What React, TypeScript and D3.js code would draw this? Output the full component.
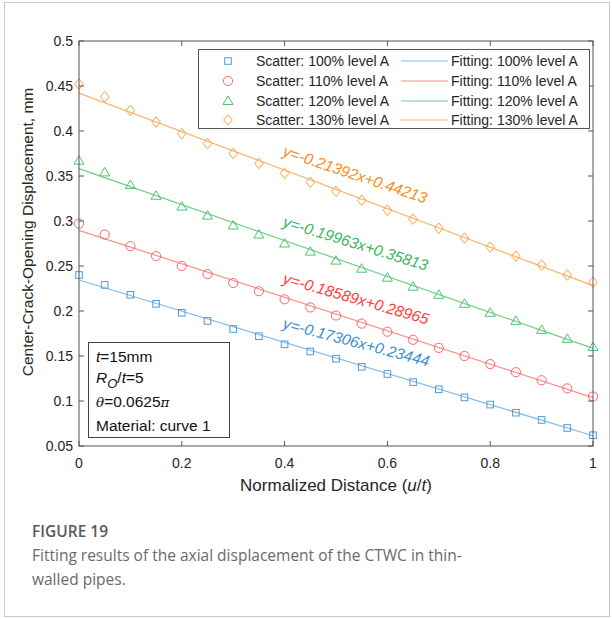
import React from "react";
import * as d3 from "d3";

const xs = [0, 0.05, 0.1, 0.15, 0.2, 0.25, 0.3, 0.35, 0.4, 0.45, 0.5, 0.55, 0.6, 0.65, 0.7, 0.75, 0.8, 0.85, 0.9, 0.95, 1];
const s100 = [0.240, 0.229, 0.218, 0.208, 0.198, 0.189, 0.180, 0.172, 0.163, 0.155, 0.147, 0.138, 0.130, 0.121, 0.113, 0.104, 0.096, 0.087, 0.079, 0.070, 0.062];
const s110 = [0.297, 0.285, 0.272, 0.261, 0.250, 0.241, 0.231, 0.222, 0.213, 0.204, 0.195, 0.186, 0.177, 0.168, 0.159, 0.150, 0.141, 0.132, 0.123, 0.114, 0.105];
const s120 = [0.367, 0.354, 0.340, 0.328, 0.316, 0.306, 0.295, 0.285, 0.275, 0.266, 0.256, 0.247, 0.237, 0.227, 0.218, 0.208, 0.198, 0.189, 0.179, 0.169, 0.160];
const s130 = [0.452, 0.438, 0.423, 0.410, 0.397, 0.386, 0.375, 0.364, 0.353, 0.343, 0.333, 0.323, 0.312, 0.302, 0.292, 0.281, 0.271, 0.261, 0.251, 0.240, 0.232];
const slopes = [-0.17306, -0.18589, -0.19963, -0.21392];
const intercepts = [0.23444, 0.28965, 0.35813, 0.44213];
const equations = ["y=-0.17306x+0.23444", "y=-0.18589x+0.28965", "y=-0.19963x+0.35813", "y=-0.21392x+0.44213"];
const levels = ["100%", "110%", "120%", "130%"];
const xTicks = [0, 0.2, 0.4, 0.6, 0.8, 1];
const yTicks = [0.05, 0.1, 0.15, 0.2, 0.25, 0.3, 0.35, 0.4, 0.45, 0.5];

const scatterSets = [s100, s110, s120, s130];
const markerColors = ["#4f9bd8", "#ff6464", "#4fc472", "#ffa040"];
const lineColors = ["#86bbe6", "#ff8c8c", "#6fcf8a", "#ffb466"];
const textColors = ["#3b8fd0", "#ff3d3d", "#3cb45c", "#f78f1e"];
const shapes = ["square", "circle", "triangle", "diamond"];

const W = 612, H = 619;
const L = 79, R = 593, T = 41, B = 446;
const FONT = "'Liberation Sans', Arial, Helvetica, sans-serif";
const CAP = "'Open Sans', 'Noto Sans', sans-serif";

function Marker({ shape, x, y, color }: { shape: string; x: number; y: number; color: string }) {
  const sw = 1;
  if (shape === "square") return <rect x={x - 3.3} y={y - 3.3} width={6.6} height={6.6} fill="none" stroke={color} strokeWidth={sw} />;
  if (shape === "circle") return <circle cx={x} cy={y} r={4.6} fill="none" stroke={color} strokeWidth={sw} />;
  if (shape === "triangle") return <path d={`M${x},${y - 5} L${x + 5},${y + 3.5} L${x - 5},${y + 3.5} Z`} fill="none" stroke={color} strokeWidth={sw} />;
  return <path d={`M${x},${y - 5.3} L${x + 4.3},${y} L${x},${y + 5.3} L${x - 4.3},${y} Z`} fill="none" stroke={color} strokeWidth={sw} />;
}

export default function App() {
  const x = d3.scaleLinear().domain([0, 1]).range([L, R]);
  const y = d3.scaleLinear().domain([0.05, 0.5]).range([B, T]);
  const fmt = (v: number) => (v === 0 || v === 1 ? String(v) : String(+v.toFixed(2)));
  const legendRows = [61, 81, 101, 120];

  return (
    <div style={{ position: "absolute", left: 0, top: 0 }}>
      <svg width={W} height={H} style={{ display: "block" }}>
        <rect x={0} y={0} width={W} height={H} fill="#fff" />
        <rect x={4.5} y={2.5} width={605} height={614} fill="none" stroke="#c8c8c8" strokeWidth={1} />

        {/* fit lines */}
        {slopes.map((m, i) => {
          const ln = d3.line<number>().x((d) => x(d)).y((d) => y(m * d + intercepts[i]));
          return <path key={"fl" + i} d={ln([0, 1]) || ""} stroke={lineColors[i]} strokeWidth={1.2} fill="none" />;
        })}
        {/* scatter */}
        {scatterSets.map((arr, i) => (
          <g key={"sc" + i}>
            {arr.map((v, j) => (
              <Marker key={j} shape={shapes[i]} x={x(xs[j])} y={y(v)} color={markerColors[i]} />
            ))}
          </g>
        ))}
        {/* equations */}
        {slopes.map((m, i) => {
          const x0 = 0.395;
          const ang = (Math.atan2(y(m) - y(0), x(1) - x(0)) * 180) / Math.PI - 2;
          const px = x(x0);
          const py = y(m * x0 + intercepts[i]) - 13.5;
          return (
            <text key={"eq" + i} x={px} y={py} transform={`rotate(${ang},${px},${py})`} fill={textColors[i]} fontFamily={FONT} fontSize={15.5} fontStyle="italic">
              {equations[i]}
            </text>
          );
        })}

        {/* axes box */}
        <rect x={L} y={T} width={R - L} height={B - T} fill="none" stroke="#555" strokeWidth={1} />
        {xTicks.map((t) => (
          <g key={"xt" + t}>
            <line x1={x(t)} x2={x(t)} y1={B} y2={B - 5} stroke="#555" />
            <line x1={x(t)} x2={x(t)} y1={T} y2={T + 5} stroke="#555" />
            <text x={x(t)} y={468} textAnchor="middle" fontFamily={FONT} fontSize={14} fill="#262626">{fmt(t)}</text>
          </g>
        ))}
        {yTicks.map((t) => (
          <g key={"yt" + t}>
            <line x1={L} x2={L + 5} y1={y(t)} y2={y(t)} stroke="#555" />
            <line x1={R} x2={R - 5} y1={y(t)} y2={y(t)} stroke="#555" />
            <text x={73} y={y(t) + 5} textAnchor="end" fontFamily={FONT} fontSize={14} fill="#262626">{fmt(t)}</text>
          </g>
        ))}
        <text x={(L + R) / 2} y={491} textAnchor="middle" fontFamily={FONT} fontSize={17} fill="#262626">
          Normalized Distance (<tspan fontStyle="italic">u</tspan>/<tspan fontStyle="italic">t</tspan>)
        </text>
        <text transform={`translate(33,232) rotate(-90)`} textAnchor="middle" fontFamily={FONT} fontSize={15.5} fill="#262626">
          Center-Crack-Opening Displacement, mm
        </text>

        {/* legend */}
        <rect x={198.5} y={49.5} width={391} height={79} fill="#fff" stroke="#555" strokeWidth={1} />
        {levels.map((lv, i) => (
          <g key={"lg" + i}>
            <Marker shape={shapes[i]} x={228} y={legendRows[i]} color={markerColors[i]} />
            <text x={256} y={legendRows[i] + 5} fontFamily={FONT} fontSize={14} fill="#262626">{`Scatter: ${lv} level A`}</text>
            <line x1={401} x2={448} y1={legendRows[i]} y2={legendRows[i]} stroke={lineColors[i]} strokeWidth={1.2} />
            <text x={451} y={legendRows[i] + 5} fontFamily={FONT} fontSize={14} fill="#262626">{`Fitting: ${lv} level A`}</text>
          </g>
        ))}

        {/* annotation box */}
        <rect x={88.5} y={342.5} width={141} height={95} fill="#fff" stroke="#444" strokeWidth={1} />
        <g fontFamily={FONT} fontSize={15.5} fill="#111">
          <text x={96} y={362}><tspan fontStyle="italic">t</tspan>=15mm</text>
          <text x={96} y={383}>
            <tspan fontStyle="italic">R</tspan>
            <tspan fontStyle="italic" fontSize={13} dy={5}>O</tspan>
            <tspan dy={-5}>/</tspan>
            <tspan fontStyle="italic">t</tspan>=5
          </text>
          <text x={96} y={407}><tspan fontFamily="'DejaVu Serif', serif" fontStyle="italic" fontSize={13.5}>θ</tspan>=0.0625<tspan fontFamily="'DejaVu Serif', serif" fontStyle="italic" fontSize={13.5}>π</tspan></text>
          <text x={96} y={431}>Material: curve 1</text>
        </g>

        {/* caption */}
        <text x={32} y={537} fontFamily={CAP} fontSize={15.5} fontWeight={600} fill="#5a5a5a">FIGURE 19</text>
        <text x={32} y={561} fontFamily={CAP} fontSize={15.5} fill="#6a6a6a">Fitting results of the axial displacement of the CTWC in thin-</text>
        <text x={32} y={585} fontFamily={CAP} fontSize={15.5} fill="#6a6a6a">walled pipes.</text>
      </svg>
    </div>
  );
}
